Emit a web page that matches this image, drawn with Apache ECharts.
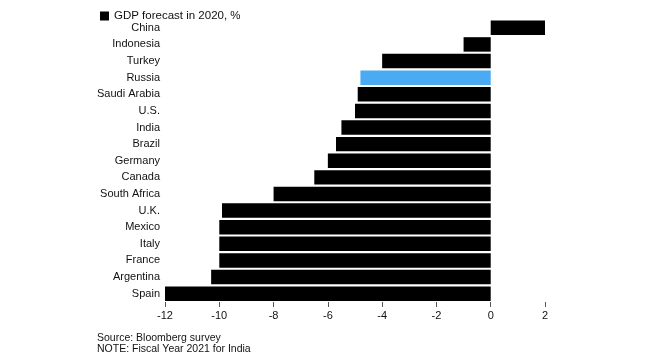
<!DOCTYPE html>
<html>
<head>
<meta charset="utf-8">
<script src="https://cdn.jsdelivr.net/npm/echarts@6/dist/echarts.min.js"></script>
<style>
html,body{margin:0;padding:0;background:#fff;}
#c{width:650px;height:360px;}
</style>
</head>
<body>
<div id="c"></div>
<script>
var categories = ["China","Indonesia","Turkey","Russia","Saudi Arabia","U.S.","India","Brazil","Germany","Canada","South Africa","U.K.","Mexico","Italy","France","Argentina","Spain"];
var gdpForecast = [2.0,-1.0,-4.0,-4.8,-4.9,-5.0,-5.5,-5.7,-6.0,-6.5,-8.0,-9.9,-10.0,-10.0,-10.0,-10.3,-12.0];
var highlighted = "Russia";
var seriesName = "GDP forecast in 2020, %";
var xTicks = [-12,-10,-8,-6,-4,-2,0,2];
var sourceLines = ["Source: Bloomberg survey","NOTE: Fiscal Year 2021 for India"];

var FONT = '"Liberation Sans", Arial, sans-serif';
var chart = echarts.init(document.getElementById('c'), null, {renderer:'canvas'});
chart.setOption({
  animation:false,
  backgroundColor:'#fff',
  textStyle:{fontFamily:FONT},
  legend:{
    left:95, top:5, itemWidth:9, itemHeight:9, itemGap:5,
    icon:'rect',
    textStyle:{fontFamily:FONT,fontSize:11.5,color:'#111'},
    data:[seriesName]
  },
  graphic:[{
    type:'text', left:97, top:333,
    style:{text:sourceLines.join('\n'), font:'10.5px '+FONT, fill:'#111', lineHeight:11}
  }],
  grid:{left:165, right:105, top:19.5, bottom:58, containLabel:false},
  xAxis:{
    type:'value', min:xTicks[0], max:xTicks[xTicks.length-1], interval:2,
    position:'bottom',
    axisLine:{show:false},
    axisTick:{show:true, length:5, lineStyle:{color:'#555'}},
    splitLine:{show:false},
    axisLabel:{fontFamily:FONT,fontSize:11,color:'#111',margin:8}
  },
  yAxis:{
    type:'category', data:categories, inverse:true,
    axisLine:{show:false}, axisTick:{show:false},
    axisLabel:{fontFamily:FONT,fontSize:11,color:'#111',margin:5}
  },
  series:[{
    name:seriesName, type:'bar', barCategoryGap:'13%',
    itemStyle:{color:'#000'},
    data:gdpForecast.map(function(v,i){
      return categories[i]===highlighted ? {value:v,itemStyle:{color:'#4aaaf2'}} : v;
    })
  }]
});
</script>
</body>
</html>
